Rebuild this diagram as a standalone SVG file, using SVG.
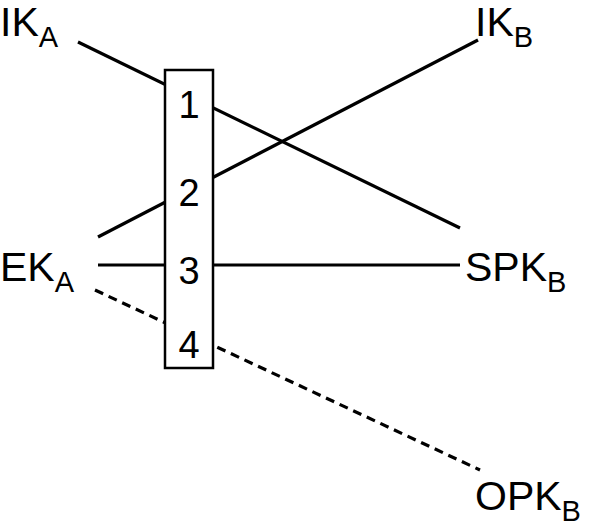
<svg xmlns="http://www.w3.org/2000/svg" width="601" height="530" viewBox="0 0 601 530">
<style>
text{font-family:"Liberation Sans",Arial,sans-serif;fill:#000}
.l{font-size:41px}.n{font-size:38px;text-anchor:middle}
.c{stroke:#000;stroke-width:3.2;fill:none}
</style>
<rect width="601" height="530" fill="#fff"/>
<g id="connectors">
<line class="c" x1="78" y1="42" x2="460" y2="228"/>
<line class="c" x1="98" y1="237" x2="478" y2="40"/>
<line class="c" x1="98" y1="265" x2="460" y2="265"/>
<line class="c" x1="95" y1="290" x2="480" y2="470" stroke-dasharray="9,6"/>
</g>
<g id="box"><rect x="165" y="70" width="48" height="298" fill="#fff" stroke="#000" stroke-width="2.5"/>
<text class="n" x="189" y="118">1</text><text class="n" x="189" y="206">2</text><text class="n" x="189" y="284">3</text><text class="n" x="189" y="358">4</text></g>
<g id="IKA"><text class="l" x="0" y="36">IK<tspan font-size="29" dy="11">A</tspan></text></g>
<g id="IKB"><text class="l" x="475" y="36">IK<tspan font-size="29" dy="11">B</tspan></text></g>
<g id="EKA"><text class="l" x="0" y="281">EK<tspan font-size="29" dy="11">A</tspan></text></g>
<g id="SPKB"><text class="l" x="465" y="281">SPK<tspan font-size="29" dy="11">B</tspan></text></g>
<g id="OPKB"><text class="l" x="475" y="510">OPK<tspan font-size="29" dy="11">B</tspan></text></g>
</svg>
